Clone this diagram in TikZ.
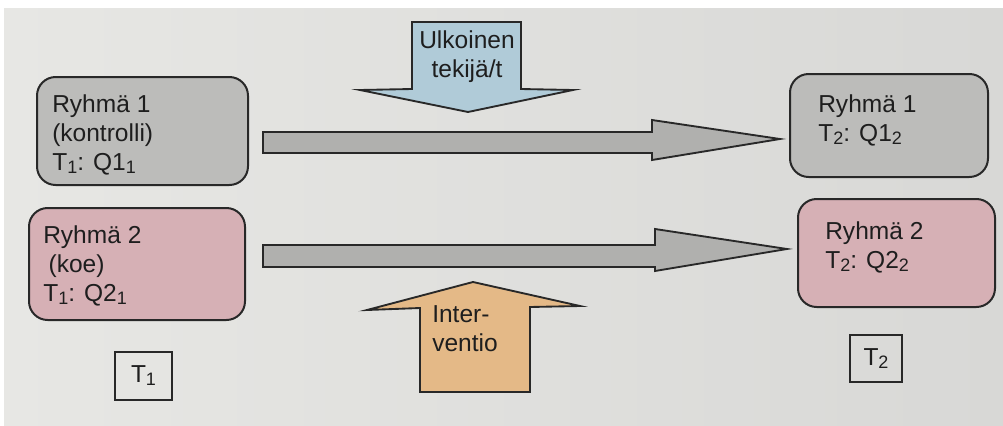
\documentclass[tikz,border=0pt]{standalone}
\usepackage{fontspec}
\setmainfont{Liberation Sans}
\definecolor{bgl}{RGB}{231,231,228}
\definecolor{bgr}{RGB}{216,216,214}
\definecolor{boxgray}{RGB}{188,188,186}
\definecolor{boxpink}{RGB}{214,176,181}
\definecolor{outerblue}{RGB}{176,203,216}
\definecolor{interorange}{RGB}{228,185,135}
\definecolor{arrowgray}{RGB}{176,176,174}
\definecolor{edge}{RGB}{40,40,40}
\definecolor{txt}{RGB}{30,30,30}
% lowered index digit
\newcommand\idx[1]{\raisebox{-2.2pt}{\fontsize{13.5}{14}\selectfont #1}}
\begin{document}
\begin{tikzpicture}[x=0.75pt,y=-0.75pt,
  every node/.style={font=\fontsize{18.4}{22}\selectfont, text=txt},
  group/.style={draw=edge, line width=1.5pt, rounded corners=14pt, inner sep=0pt},
  grouptext/.style={anchor=north west, inner sep=0pt, align=left},
  timebox/.style={draw=edge, line width=1.2pt, inner sep=0pt},
  flow/.style={draw=edge, line width=1.4pt, fill=arrowgray, line join=miter},
  factor/.style={draw=edge, line width=1.4pt, line join=miter}]
% page background
\fill[white] (0,0) rectangle (1003,425);
\shade[left color=bgl, right color=bgr] (4,8) rectangle (1003,425);
\useasboundingbox (0,0) rectangle (1003,425);

% group boxes
\node[group, fill=boxgray, minimum width=158.25pt, minimum height=81pt] (g1a) at (142.5,131) {};
\node[group, fill=boxpink, minimum width=162pt, minimum height=84pt] (g2a) at (137,264) {};
\node[group, fill=boxgray, minimum width=148.5pt, minimum height=77.25pt] (g1b) at (889,125.5) {};
\node[group, fill=boxpink, minimum width=147.75pt, minimum height=81pt] (g2b) at (896.5,253) {};

\node[grouptext] (t1a) at (52,94) {Ryhmä 1\\(kontrolli)\\T\idx{1}: Q1\idx{1}};
\node[grouptext] (t2a) at (43,225) {Ryhmä 2\\\hspace*{4pt}(koe)\\T\idx{1}: Q2\idx{1}};
\node[grouptext] (t1b) at (818,94) {Ryhmä 1\\T\idx{2}: Q1\idx{2}};
\node[grouptext] (t2b) at (825,221) {Ryhmä 2\\T\idx{2}: Q2\idx{2}};

% time markers
\node[timebox, minimum width=42.75pt, minimum height=36pt] (time1) at (143.5,376) {T\idx{1}};
\node[timebox, minimum width=39pt, minimum height=35.25pt] (time2) at (876,358.5) {T\idx{2}};

% block arrows from T1 groups to T2 groups
\coordinate (f1s) at (263,142.5);
\coordinate (f1e) at (780,139);
\draw[flow] (263,132) -- (652,132) -- (652,120) -- (f1e) -- (652,160) -- (652,153) -- (263,153) -- cycle;
\coordinate (f2s) at (263,256);
\coordinate (f2e) at (787,249);
\draw[flow] (263,245) -- (655,245) -- (655,229) -- (f2e) -- (655,271) -- (655,267) -- (263,267) -- cycle;

% external factor arrow (down)
\draw[factor, fill=outerblue] (412,22) -- (521,22) -- (521,89) -- (573,90) -- (468,112) -- (360,90) -- (412,89) -- cycle;
\node[anchor=north, inner sep=0pt, align=center] (ext) at (467,30) {Ulkoinen\\tekijä/t};

% intervention arrow (up)
\draw[factor, fill=interorange] (420,392) -- (530,392) -- (530,307) -- (580,306) -- (473,282) -- (367,310) -- (420,308) -- cycle;
\node[grouptext] (int) at (432,305) {Inter-\\ventio};
\end{tikzpicture}
\end{document}
